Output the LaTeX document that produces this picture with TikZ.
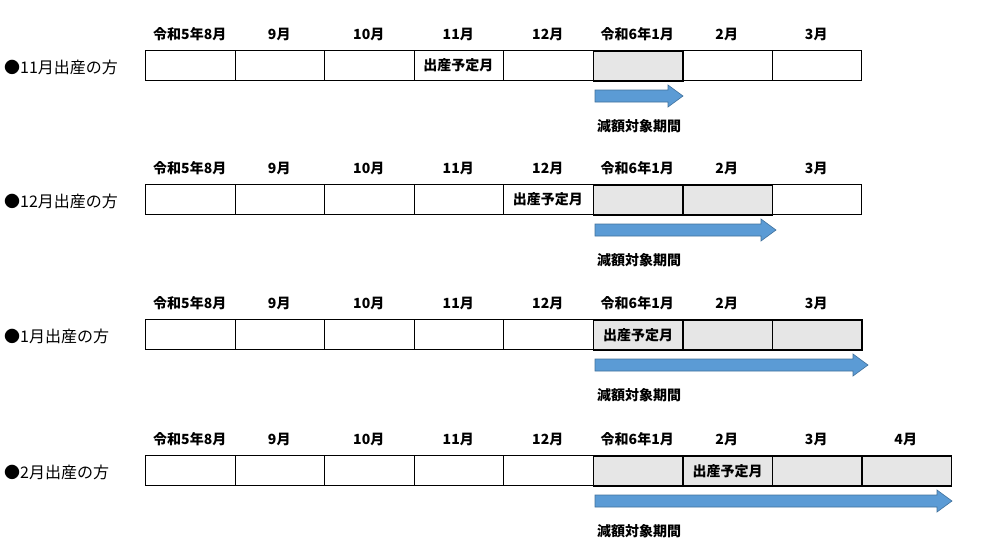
\documentclass[tikz,border=0pt]{standalone}
\usepackage{fontspec}
\newfontfamily\jp{Noto Sans CJK JP}
\usetikzlibrary{positioning}
\definecolor{cellgray}{HTML}{E6E6E6}
\definecolor{arrowblue}{HTML}{5B9BD5}
\definecolor{arrowedge}{HTML}{41719C}
\tikzset{
  cell/.style={draw,minimum width=89.5pt,minimum height=30pt,inner sep=0pt,anchor=north west,
    font=\jp\bfseries\fontsize{14}{14}\selectfont},
  shadecell/.style={cell,fill=cellgray,line width=1.6pt},
  monthlabel/.style={font=\jp\bfseries\fontsize{14}{14}\selectfont},
  rowlabel/.style={anchor=west,inner sep=0pt,font=\jp\fontsize{16}{16}\selectfont},
  periodlabel/.style={anchor=west,inner sep=0pt,font=\jp\bfseries\fontsize{14}{14}\selectfont},
  blockarrow/.style={fill=arrowblue,draw=arrowedge,line width=0.6pt}
}
\begin{document}
\begin{tikzpicture}[x=1pt,y=-1pt]
  \useasboundingbox (0,0) rectangle (982,550);
  % rows: index / top / birth month / due column / last shaded column / arrow end
  \foreach \r/\top/\nm/\due/\last/\aend in {1/50/11月/4/6/683, 2/184/12月/5/7/776, 3/319/1月/6/8/868, 4/455/2月/7/9/952}{
    \node[rowlabel] (lab\r) at (4,\top+17) {●\nm 出産の方};
    \foreach \c/\mon in {1/令和5年8月,2/9月,3/10月,4/11月,5/12月,6/令和6年1月,7/2月,8/3月,9/4月}{
      \ifnum\c>\last\ifnum\c>8\else
        \node[cell] (c\r-\c) at (145+89.5*\c-89.5,\top) {};
        \node[monthlabel] (m\r-\c) at (145+89.5*\c-44.75,\top-16) {\mon};
      \fi\else
        \ifnum\c<6
          \node[cell] (c\r-\c) at (145+89.5*\c-89.5,\top) {\ifnum\c=\due 出産予定月\fi};
        \else
          \node[shadecell] (c\r-\c) at (145+89.5*\c-89.5,\top) {\ifnum\c=\due 出産予定月\fi};
        \fi
        \node[monthlabel] (m\r-\c) at (145+89.5*\c-44.75,\top-16) {\mon};
      \fi
    }
    % arrow under the reduced period
    \coordinate (a\r) at (595,\top+46);
    \draw[blockarrow] (a\r) ++(0,-6) -- (\aend-15,\top+40) -- (\aend-15,\top+35)
      -- (\aend,\top+46) -- (\aend-15,\top+57) -- (\aend-15,\top+52) -- (595,\top+52) -- cycle;
    \node[periodlabel] (p\r) at (597,\top+76) {減額対象期間};
  }
\end{tikzpicture}
\end{document}
